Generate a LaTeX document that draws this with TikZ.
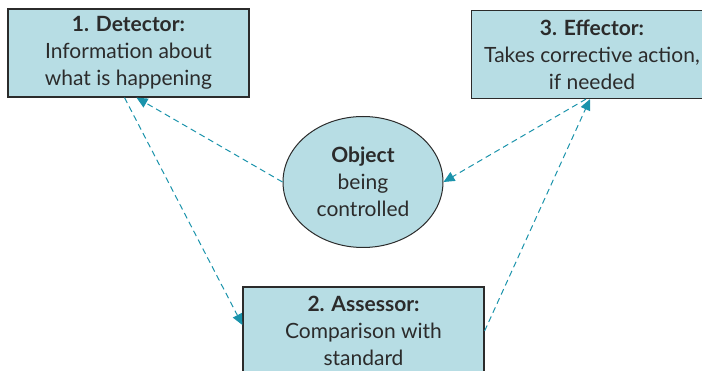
\documentclass[tikz,border=0pt]{standalone}
\usepackage{fontspec}
\setmainfont{Lato}
\usetikzlibrary{arrows.meta,shapes.geometric}
\definecolor{boxblue}{HTML}{B7DDE4}
\definecolor{flowteal}{HTML}{1A93AB}
\definecolor{inkgrey}{HTML}{2B2B2B}

\begin{document}
\begin{tikzpicture}[x=1pt,y=-1pt,
	stage/.style={draw=inkgrey,line width=1.2pt,fill=boxblue,text=inkgrey,minimum width=241pt,minimum height=88pt,align=center,inner sep=0pt,font=\fontsize{21}{27}\selectfont},
	flow/.style={flowteal,line width=1pt,dash pattern=on 6pt off 4pt,-{Triangle[length=11pt,width=10pt]}}]
	\clip (0,0) rectangle (702,371);
	
	%BOXES
	\node[stage] (det) at (128.5,53) {\textbf{1. Detector:}\\Information about\\what is happening};
	\node[stage] (eff) at (592,54.5) {\textbf{3. Effector:}\\Takes corrective action,\\if needed};
	\node[stage] (ass) at (363.5,331) {\textbf{2. Assessor:}\\Comparison with\\standard};
	
	%OBJECT
	\node[stage,ellipse,line width=1pt,minimum width=160pt,minimum height=131pt] (obj) at (363,182) {\textbf{Object}\\being\\controlled};
	
	%FEEDBACK LOOP
	\draw[flow] (obj.west) -- ([xshift=8pt]det.south);
	\draw[flow] ([xshift=-4pt]det.south) -- ([yshift=6pt]ass.west);
	\draw[flow] (ass.east) -- ([xshift=-2pt]eff.south);
	\draw[flow] ([xshift=-6pt]eff.south) -- (obj.east);
\end{tikzpicture}
\end{document}
